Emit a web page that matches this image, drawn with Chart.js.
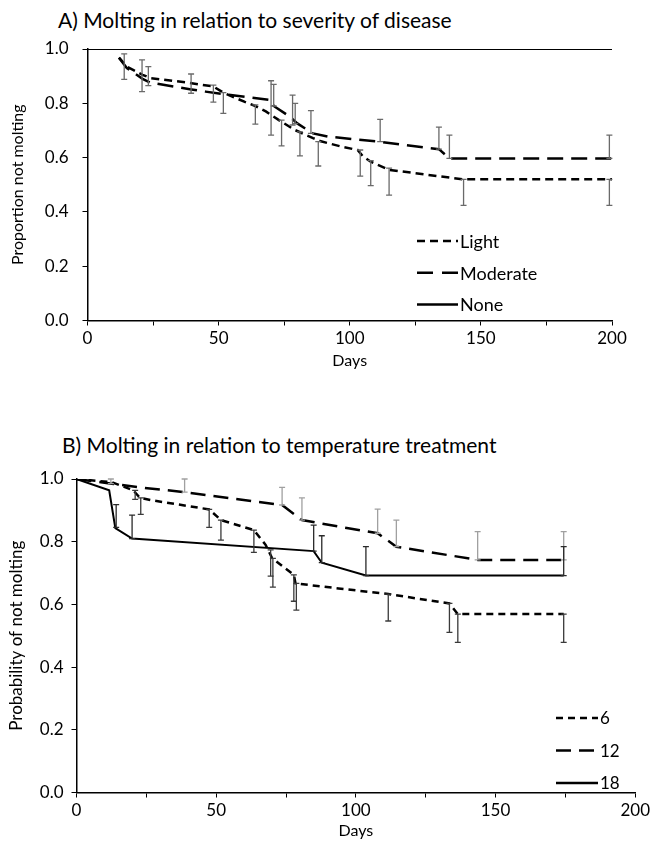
<!DOCTYPE html>
<html>
<head>
<meta charset="utf-8">
<script src="https://cdn.jsdelivr.net/npm/chart.js@4.4.0/dist/chart.umd.min.js"></script>
<style>
  body { margin: 0; background: #fff; width: 653px; height: 844px; position: relative; overflow: hidden; font-family: Lato, sans-serif; }
  .title { position: absolute; font-size: 21px; color: #000; white-space: nowrap; }
  #titleA { left: 58px; top: 7px; }
  #titleB { left: 62px; top: 432px; }
  #chartA { position: absolute; left: 0; top: 0; }
  #chartB { position: absolute; left: 0; top: 390px; }
</style>
</head>
<body>
<div class="title" id="titleA">A) Molting in relation to severity of disease</div>
<div class="title" id="titleB">B) Molting in relation to temperature treatment</div>
<canvas id="chartA" width="653" height="378"></canvas>
<canvas id="chartB" width="653" height="450"></canvas>
<script>
// ---- A) severity of disease ----
var lightDays = [12, 15, 21, 24, 39, 48, 52, 60, 64, 68, 73, 79, 86, 89, 97, 103, 105, 108, 115, 143, 200];
var lightVals = [0.968, 0.935, 0.905, 0.893, 0.875, 0.862, 0.838, 0.805, 0.79, 0.77, 0.738, 0.702, 0.672, 0.66, 0.64, 0.628, 0.605, 0.585, 0.555, 0.52, 0.52];
var moderateDays = [12, 15, 21, 24, 39, 45, 52, 70, 71, 77, 80, 86, 92, 111, 134, 138, 200];
var moderateVals = [0.968, 0.93, 0.89, 0.876, 0.852, 0.843, 0.834, 0.812, 0.79, 0.752, 0.726, 0.689, 0.677, 0.659, 0.631, 0.597, 0.597];
var noneDays = [0, 200];
var noneVals = [1, 1];

var lightErrDays = [14, 23.2, 48, 64, 70, 74, 81, 88, 104, 108, 115, 143.4, 199];
var lightErrLow  = [0.888, 0.865, 0.804, 0.723, 0.683, 0.643, 0.606, 0.569, 0.532, 0.497, 0.462, 0.424, 0.424];
var lightErrHigh = [0.982, 0.935, 0.867, 0.794, 0.883, 0.738, 0.695, 0.659, 0.628, 0.589, 0.561, 0.52, 0.52];
var moderateErrDays = [20.8, 39.5, 51.8, 71, 78.2, 79.2, 85.2, 111.6, 134, 138, 199];
var moderateErrLow  = [0.843, 0.837, 0.763, 0.79, 0.72, 0.725, 0.689, 0.659, 0.631, 0.597, 0.597];
var moderateErrHigh = [0.96, 0.908, 0.839, 0.87, 0.83, 0.80, 0.773, 0.741, 0.712, 0.683, 0.683];

// ---- B) temperature treatment ----
var sixDays = [0, 12.6, 20.3, 22.7, 27, 47.5, 51.7, 63.5, 67.7, 70, 77.8, 78.4, 93.8, 111.6, 133.5, 136.5, 174.4];
var sixVals = [1, 0.99, 0.964, 0.94, 0.932, 0.903, 0.869, 0.837, 0.79, 0.748, 0.694, 0.667, 0.651, 0.633, 0.603, 0.569, 0.569];
var twelveDays = [0, 12.6, 22, 38.7, 73.6, 80.7, 97.3, 107.8, 114.5, 143.6, 174.4];
var twelveVals = [1, 0.985, 0.974, 0.958, 0.917, 0.869, 0.843, 0.827, 0.784, 0.742, 0.742];
var eighteenDays = [0, 11.7, 13.9, 19.9, 84.9, 87.8, 103.6, 174.4];
var eighteenVals = [1, 0.964, 0.843, 0.81, 0.77, 0.733, 0.692, 0.692];

var sixErrDays = [21, 23, 47.5, 51.7, 63.5, 69.5, 70.3, 77.8, 78.7, 111.6, 133.5, 136.5, 174.4];
var sixErrLow  = [0.935, 0.887, 0.846, 0.805, 0.766, 0.69, 0.655, 0.61, 0.582, 0.547, 0.511, 0.479, 0.479];
var sixErrHigh = [0.964, 0.94, 0.903, 0.869, 0.837, 0.774, 0.747, 0.694, 0.667, 0.633, 0.603, 0.569, 0.569];
var twelveErrDays = [12.3, 38.7, 73.6, 80.7, 107.8, 114.5, 143.6, 174.4];
var twelveErrLow  = [0.985, 0.958, 0.917, 0.869, 0.827, 0.784, 0.742, 0.742];
var twelveErrHigh = [1.0, 1.0, 0.973, 0.94, 0.904, 0.869, 0.832, 0.832];
var eighteenErrDays = [14.2, 19.9, 84.9, 87.8, 103.6, 174.4];
var eighteenErrLow  = [0.846, 0.81, 0.77, 0.733, 0.692, 0.692];
var eighteenErrHigh = [0.918, 0.885, 0.853, 0.819, 0.784, 0.784];

var xTicks = [0, 50, 100, 150, 200];

Chart.defaults.font.family = "Lato, sans-serif";
Chart.defaults.color = "#000";

function toPoints(days, vals) {
  var pts = [];
  for (var i = 0; i < days.length; i++) {
    pts.push({ x: days[i], y: vals[i] });
  }
  return pts;
}

function series(label, days, vals, dash, width) {
  return {
    label: label,
    data: toPoints(days, vals),
    borderColor: "#000",
    borderWidth: width,
    borderDash: dash,
    pointRadius: 0,
    fill: false,
    tension: 0,
  };
}

// vertical error bars with caps, placed through the chart scales
var errorBarPlugin = {
  id: "errorBars",
  afterDatasetsDraw: function (chart, args, opts) {
    var ctx = chart.ctx;
    var xs = chart.scales.x;
    var ys = chart.scales.y;
    (opts.sets || []).forEach(function (set) {
      ctx.save();
      ctx.strokeStyle = set.color;
      ctx.lineWidth = 1.3;
      for (var i = 0; i < set.days.length; i++) {
        var x = xs.getPixelForValue(set.days[i]);
        var y1 = ys.getPixelForValue(set.low[i]);
        var y2 = ys.getPixelForValue(set.high[i]);
        ctx.beginPath();
        ctx.moveTo(x, y1);
        ctx.lineTo(x, y2);
        ctx.moveTo(x - 3, y1);
        ctx.lineTo(x + 3, y1);
        ctx.moveTo(x - 3, y2);
        ctx.lineTo(x + 3, y2);
        ctx.stroke();
      }
      ctx.restore();
    });
  },
};

// legend drawn inside the plot area
var insideLegendPlugin = {
  id: "insideLegend",
  afterDraw: function (chart, args, opts) {
    var ctx = chart.ctx;
    chart.data.datasets.forEach(function (ds, i) {
      var y = opts.y + i * opts.gap;
      ctx.save();
      ctx.strokeStyle = "#000";
      ctx.lineWidth = 2.5;
      ctx.setLineDash(opts.dashes[i]);
      ctx.beginPath();
      ctx.moveTo(opts.x, y);
      ctx.lineTo(opts.x + opts.len, y);
      ctx.stroke();
      ctx.setLineDash([]);
      ctx.fillStyle = "#000";
      ctx.font = opts.size + "px Lato, sans-serif";
      ctx.textBaseline = "middle";
      ctx.fillText(ds.label, opts.x + opts.len + 2, y + 1);
      ctx.restore();
    });
  },
};

function makeChart(id, datasets, errSets, legendOpts, geo) {
  return new Chart(document.getElementById(id), {
    type: "line",
    data: { datasets: datasets },
    options: {
      responsive: false,
      animation: false,
      devicePixelRatio: 1,
      layout: { padding: { top: geo.top, right: geo.right, left: 0, bottom: 0 } },
      plugins: {
        legend: { display: false },
        tooltip: { enabled: false },
        errorBars: { sets: errSets },
        insideLegend: legendOpts,
      },
      scales: {
        x: {
          type: "linear",
          min: 0,
          max: 200,
          afterBuildTicks: function (scale) {
            scale.ticks = [0, 25, 50, 75, 100, 125, 150, 175, 200].map(function (v) { return { value: v }; });
          },
          ticks: {
            autoSkip: false,
            maxRotation: 0,
            font: { size: 17 },
            padding: 3,
            callback: function (v) { return xTicks.indexOf(v) >= 0 ? String(v) : ""; },
          },
          grid: { drawOnChartArea: false, tickLength: 5, color: "#000", lineWidth: 1 },
          border: { color: "#000", width: 1.5 },
          title: { display: true, text: "Days", font: { size: 16 }, padding: { top: 2, bottom: geo.daysPad } },
          afterFit: function (scale) { scale.height = geo.xHeight; },
        },
        y: {
          min: 0,
          max: 1,
          ticks: {
            stepSize: 0.2,
            font: { size: 17 },
            padding: geo.yTickPad,
            callback: function (v) { return v.toFixed(1); },
          },
          grid: { drawOnChartArea: false, tickLength: 5, color: "#000", lineWidth: 1 },
          border: { color: "#000", width: 1.5 },
          title: { display: true, text: geo.yTitle, font: { size: geo.yTitleSize }, padding: { top: geo.yPad, bottom: 0 } },
          afterFit: function (scale) { scale.width = geo.yWidth; },
        },
      },
    },
    plugins: [errorBarPlugin, insideLegendPlugin],
  });
}

makeChart(
  "chartA",
  [
    series("Light", lightDays, lightVals, [8, 5], 2.5),
    series("Moderate", moderateDays, moderateVals, [16, 8], 2.5),
    series("None", noneDays, noneVals, [], 2),
  ],
  [
    { days: lightErrDays, low: lightErrLow, high: lightErrHigh, color: "#6a6a6a" },
    { days: moderateErrDays, low: moderateErrLow, high: moderateErrHigh, color: "#6a6a6a" },
  ],
  { x: 417, y: 241, gap: 31.7, len: 41, size: 18, dashes: [[8, 5], [16, 9], []] },
  { top: 49, right: 41, xHeight: 57.5, yWidth: 87.5, yTickPad: 14, daysPad: 8, yPad: 8, yTitleSize: 16, yTitle: "Proportion not molting" }
);

makeChart(
  "chartB",
  [
    series("6", sixDays, sixVals, [7, 5], 2.5),
    series("12", twelveDays, twelveVals, [15, 8], 2.5),
    series("18", eighteenDays, eighteenVals, [], 2),
  ],
  [
    { days: sixErrDays, low: sixErrLow, high: sixErrHigh, color: "#3a3a3a" },
    { days: twelveErrDays, low: twelveErrLow, high: twelveErrHigh, color: "#a0a0a0" },
    { days: eighteenErrDays, low: eighteenErrLow, high: eighteenErrHigh, color: "#2a2a2a" },
  ],
  { x: 556, y: 328, gap: 32.5, len: 42, size: 17, dashes: [[7, 5], [15, 8], []] },
  { top: 89, right: 15, xHeight: 47.5, yWidth: 76.5, yTickPad: 8, daysPad: 0, yPad: 6, yTitleSize: 17, yTitle: "Probability of not molting" }
);
</script>
</body>
</html>
